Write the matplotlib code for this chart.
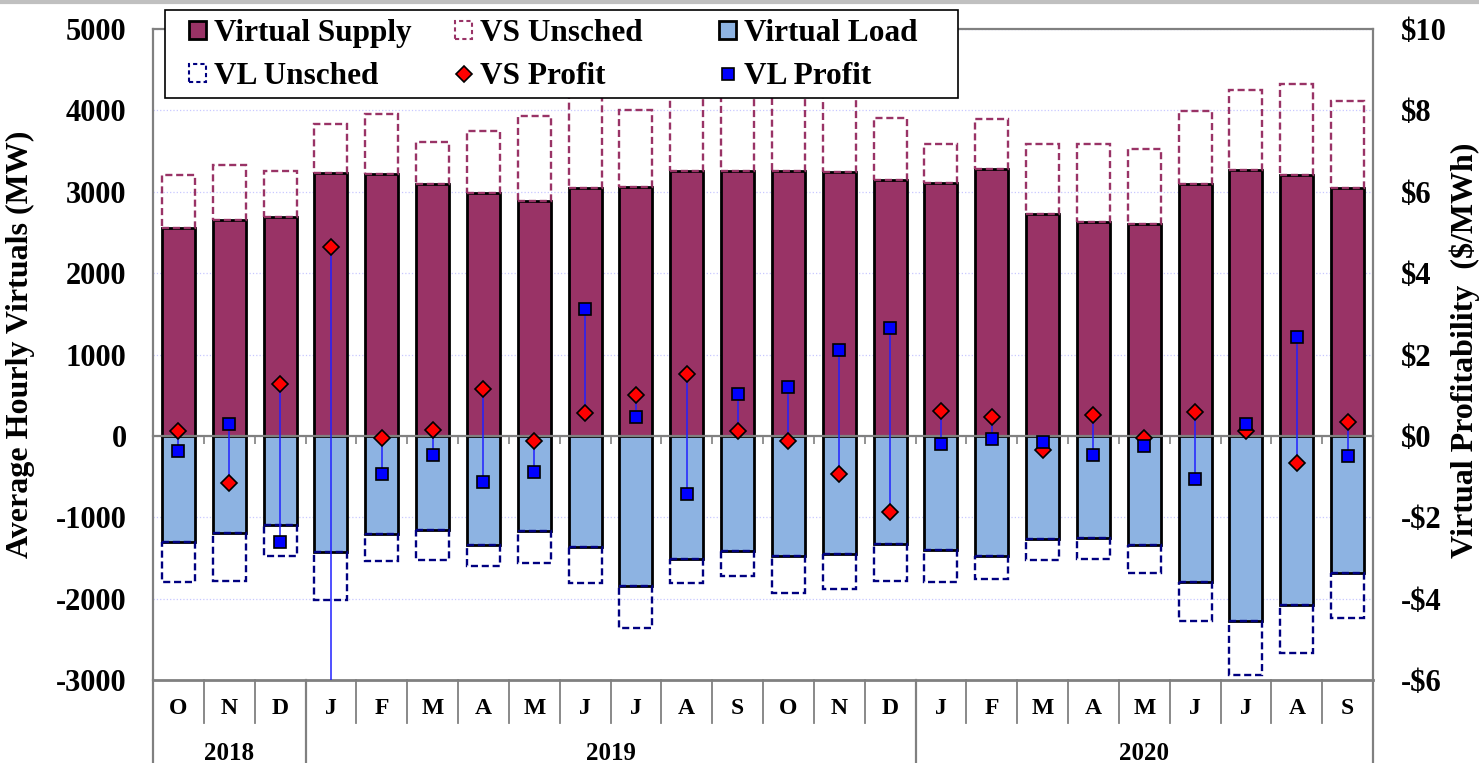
import numpy as np
import matplotlib.pyplot as plt
import matplotlib.transforms as mtransforms
from matplotlib.patches import Patch, Rectangle
from matplotlib.lines import Line2D
from matplotlib.ticker import FuncFormatter

plt.rcParams['font.family'] = ['Liberation Serif', 'DejaVu Serif']
plt.rcParams['font.weight'] = 'bold'
plt.rcParams['axes.unicode_minus'] = False

# Months (Oct 2018 - Sep 2020)
months = ["O", "N", "D", "J", "F", "M", "A", "M", "J", "J", "A", "S",
          "O", "N", "D", "J", "F", "M", "A", "M", "J", "J", "A", "S"]
years = ["2018", "2019", "2020"]
year_months = [3, 12, 9]

# Average hourly virtuals (MW)
vs_sched = [2560, 2655, 2695, 3225, 3220, 3095, 2980, 2890, 3045, 3060, 3260, 3260,
            3255, 3240, 3150, 3105, 3280, 2730, 2630, 2605, 3095, 3265, 3205, 3045]
vs_total = [3210, 3330, 3260, 3836, 3955, 3615, 3750, 3925, 4300, 4005, 4350, 4250,
            4300, 4200, 3905, 3590, 3893, 3590, 3590, 3527, 3995, 4245, 4325, 4110]
vl_sched = [-1310, -1195, -1097, -1433, -1200, -1151, -1343, -1171, -1368, -1843, -1515, -1417,
            -1474, -1450, -1331, -1400, -1474, -1265, -1253, -1343, -1794, -2269, -2080, -1679]
vl_total = [-1790, -1781, -1474, -2023, -1532, -1523, -1597, -1564, -1810, -2355, -1810, -1728,
            -1925, -1876, -1786, -1790, -1761, -1523, -1515, -1687, -2273, -2936, -2670, -2240]

# Virtual profitability ($/MWh)
vs_profit = [0.13, -1.15, 1.28, 4.64, -0.05, 0.15, 1.14, -0.12, 0.56, 1.01, 1.52, 0.13,
             -0.12, -0.93, -1.88, 0.61, 0.47, -0.34, 0.51, -0.06, 0.59, 0.13, -0.66, 0.34]
vl_profit = [-0.36, 0.29, -2.62, -8.0, -0.93, -0.47, -1.14, -0.88, 3.11, 0.47, -1.42, 1.04,
             1.21, 2.11, 2.65, -0.19, -0.07, -0.14, -0.47, -0.24, -1.07, 0.30, 2.42, -0.49]

# Colours
c_vs = "#993366"
c_vl = "#8DB3E2"
c_vl_edge = "#000080"
c_frame = "#808080"

x = np.arange(len(months))
vs_sched = np.array(vs_sched)
vs_total = np.array(vs_total)
vl_sched = np.array(vl_sched)
vl_total = np.array(vl_total)
bw = 0.65

fig = plt.figure(figsize=(14.79, 7.63), dpi=100)
ax = fig.add_axes([0.10345, 0.10878, 0.8249, 0.8532])
ax2 = ax.twinx()

## bars
ax.bar(x, vs_sched, bw, color=c_vs, edgecolor="black", linewidth=2, zorder=2)
ax.bar(x, vs_total - vs_sched, bw, bottom=vs_sched, fill=False, edgecolor=c_vs,
       linewidth=1.7, linestyle=(0, (3, 1.6)), zorder=3)
ax.bar(x, vl_sched, bw, color=c_vl, edgecolor="black", linewidth=2, zorder=2)
ax.bar(x, vl_total - vl_sched, bw, bottom=vl_sched, fill=False, edgecolor=c_vl_edge,
       linewidth=1.7, linestyle=(0, (3, 1.6)), zorder=3)

ax.set_xlim(-0.5, len(months) - 0.5)
ax.set_ylim(-3000, 5000)
ax.set_yticks(np.arange(-3000, 5001, 1000))
ax.set_axisbelow(True)
ax.yaxis.grid(True, color="#c8c8ff", linestyle=":", linewidth=0.9)
ax.tick_params(axis="y", length=0, labelsize=22, pad=19)

# x axis sits on zero, ticks at month boundaries
ax.spines["bottom"].set_position(("data", 0))
ax.set_xticks(np.arange(len(months) + 1) - 0.5)
ax.set_xticklabels([])
ax.tick_params(axis="x", direction="out", length=6, width=1.2, color=c_frame)
for s in ["left", "top", "right", "bottom"]:
    ax.spines[s].set_color(c_frame)
    ax.spines[s].set_linewidth(1.6)
ax.plot([0, 1], [0, 0], transform=ax.transAxes, color=c_frame, lw=2, clip_on=False, zorder=5)

## profit (right axis)
ax2.vlines(x, np.minimum(vs_profit, vl_profit), np.maximum(vs_profit, vl_profit),
           color="#2020ff", linewidth=1.1, zorder=2)
ax2.plot(x, vs_profit, linestyle="none", marker="D", markersize=8, color="red",
         markeredgecolor="black", markeredgewidth=1.2, zorder=3)
ax2.plot(x, vl_profit, linestyle="none", marker="s", markersize=9, color="#0000ff",
         markeredgecolor="black", markeredgewidth=1.2, zorder=4)
ax2.set_ylim(-6, 10)
ax2.set_yticks(np.arange(-6, 11, 2))
ax2.yaxis.set_major_formatter(FuncFormatter(lambda v, p: f"-${-v:.0f}" if v < 0 else f"${v:.0f}"))
ax2.tick_params(axis="y", length=0, labelsize=22, pad=20)
for s in ax2.spines.values():
    s.set_visible(False)

## category table under the plot
trans = mtransforms.blended_transform_factory(ax.transData, ax.transAxes)
row1 = -0.066
row2 = -0.1275
for i, m in enumerate(months):
    ax.text(i, -0.044, m, transform=trans, ha="center", va="center", fontsize=17, fontweight="bold")
for b in range(1, len(months)):
    ax.plot([b - 0.5, b - 0.5], [0, row1], transform=trans, color=c_frame, lw=1.3, clip_on=False)
edges = np.concatenate([[0], np.cumsum(year_months)]) - 0.5
for e in edges:
    ax.plot([e, e], [0, row2], transform=trans, color=c_frame, lw=1.6, clip_on=False)
for k, yr in enumerate(years):
    ax.text((edges[k] + edges[k + 1]) / 2, -0.113, yr, transform=trans, ha="center",
            va="center", fontsize=18, fontweight="bold")

## axis titles
fig.text(0.014, 0.549, "Average Hourly Virtuals (MW)", rotation=90, ha="center", va="center",
         fontsize=23, fontweight="bold")
fig.text(0.9905, 0.541, "Virtual Profitability  ($/MWh)", rotation=90, ha="center", va="center",
         fontsize=23, fontweight="bold")

## legend: white box with three equally spaced columns
handles = [
    Patch(facecolor=c_vs, edgecolor="black", linewidth=2),
    Patch(fill=False, edgecolor=c_vl_edge, linewidth=1.5, linestyle=(0, (2, 1.5))),
    Patch(fill=False, edgecolor=c_vs, linewidth=1.5, linestyle=(0, (2, 1.5))),
    Line2D([], [], linestyle="none", marker="D", markersize=8, color="red",
           markeredgecolor="black", markeredgewidth=1.2),
    Patch(facecolor=c_vl, edgecolor="black", linewidth=2),
    Line2D([], [], linestyle="none", marker="s", markersize=8, color="#0000ff",
           markeredgecolor="black", markeredgewidth=1.2),
]
labels = ["Virtual Supply", "VL Unsched", "VS Unsched", "VS Profit", "Virtual Load", "VL Profit"]
W, H = 1479.0, 763.0
box = Rectangle((165 / W, 1 - 98 / H), (958 - 165) / W, 88 / H, transform=fig.transFigure,
                facecolor="white", edgecolor="black", linewidth=1.2, zorder=9)
fig.add_artist(box)
col_x = [189 / W, 455 / W, 719 / W]
for c in range(3):
    lg = fig.legend(handles[2 * c:2 * c + 2], labels[2 * c:2 * c + 2], loc="upper left",
                    bbox_to_anchor=(col_x[c], 1 - 19 / H), frameon=False, fontsize=22.5,
                    handlelength=0.55, handleheight=0.55, handletextpad=0.25,
                    labelspacing=0.45, borderpad=0, borderaxespad=0)
    lg.set_zorder(10)

# grey band at the top edge of the image
fig.add_artist(Line2D([0, 1], [0.998, 0.998], color="#c0c0c0", lw=3))

fig.savefig("out.png", dpi=100)
